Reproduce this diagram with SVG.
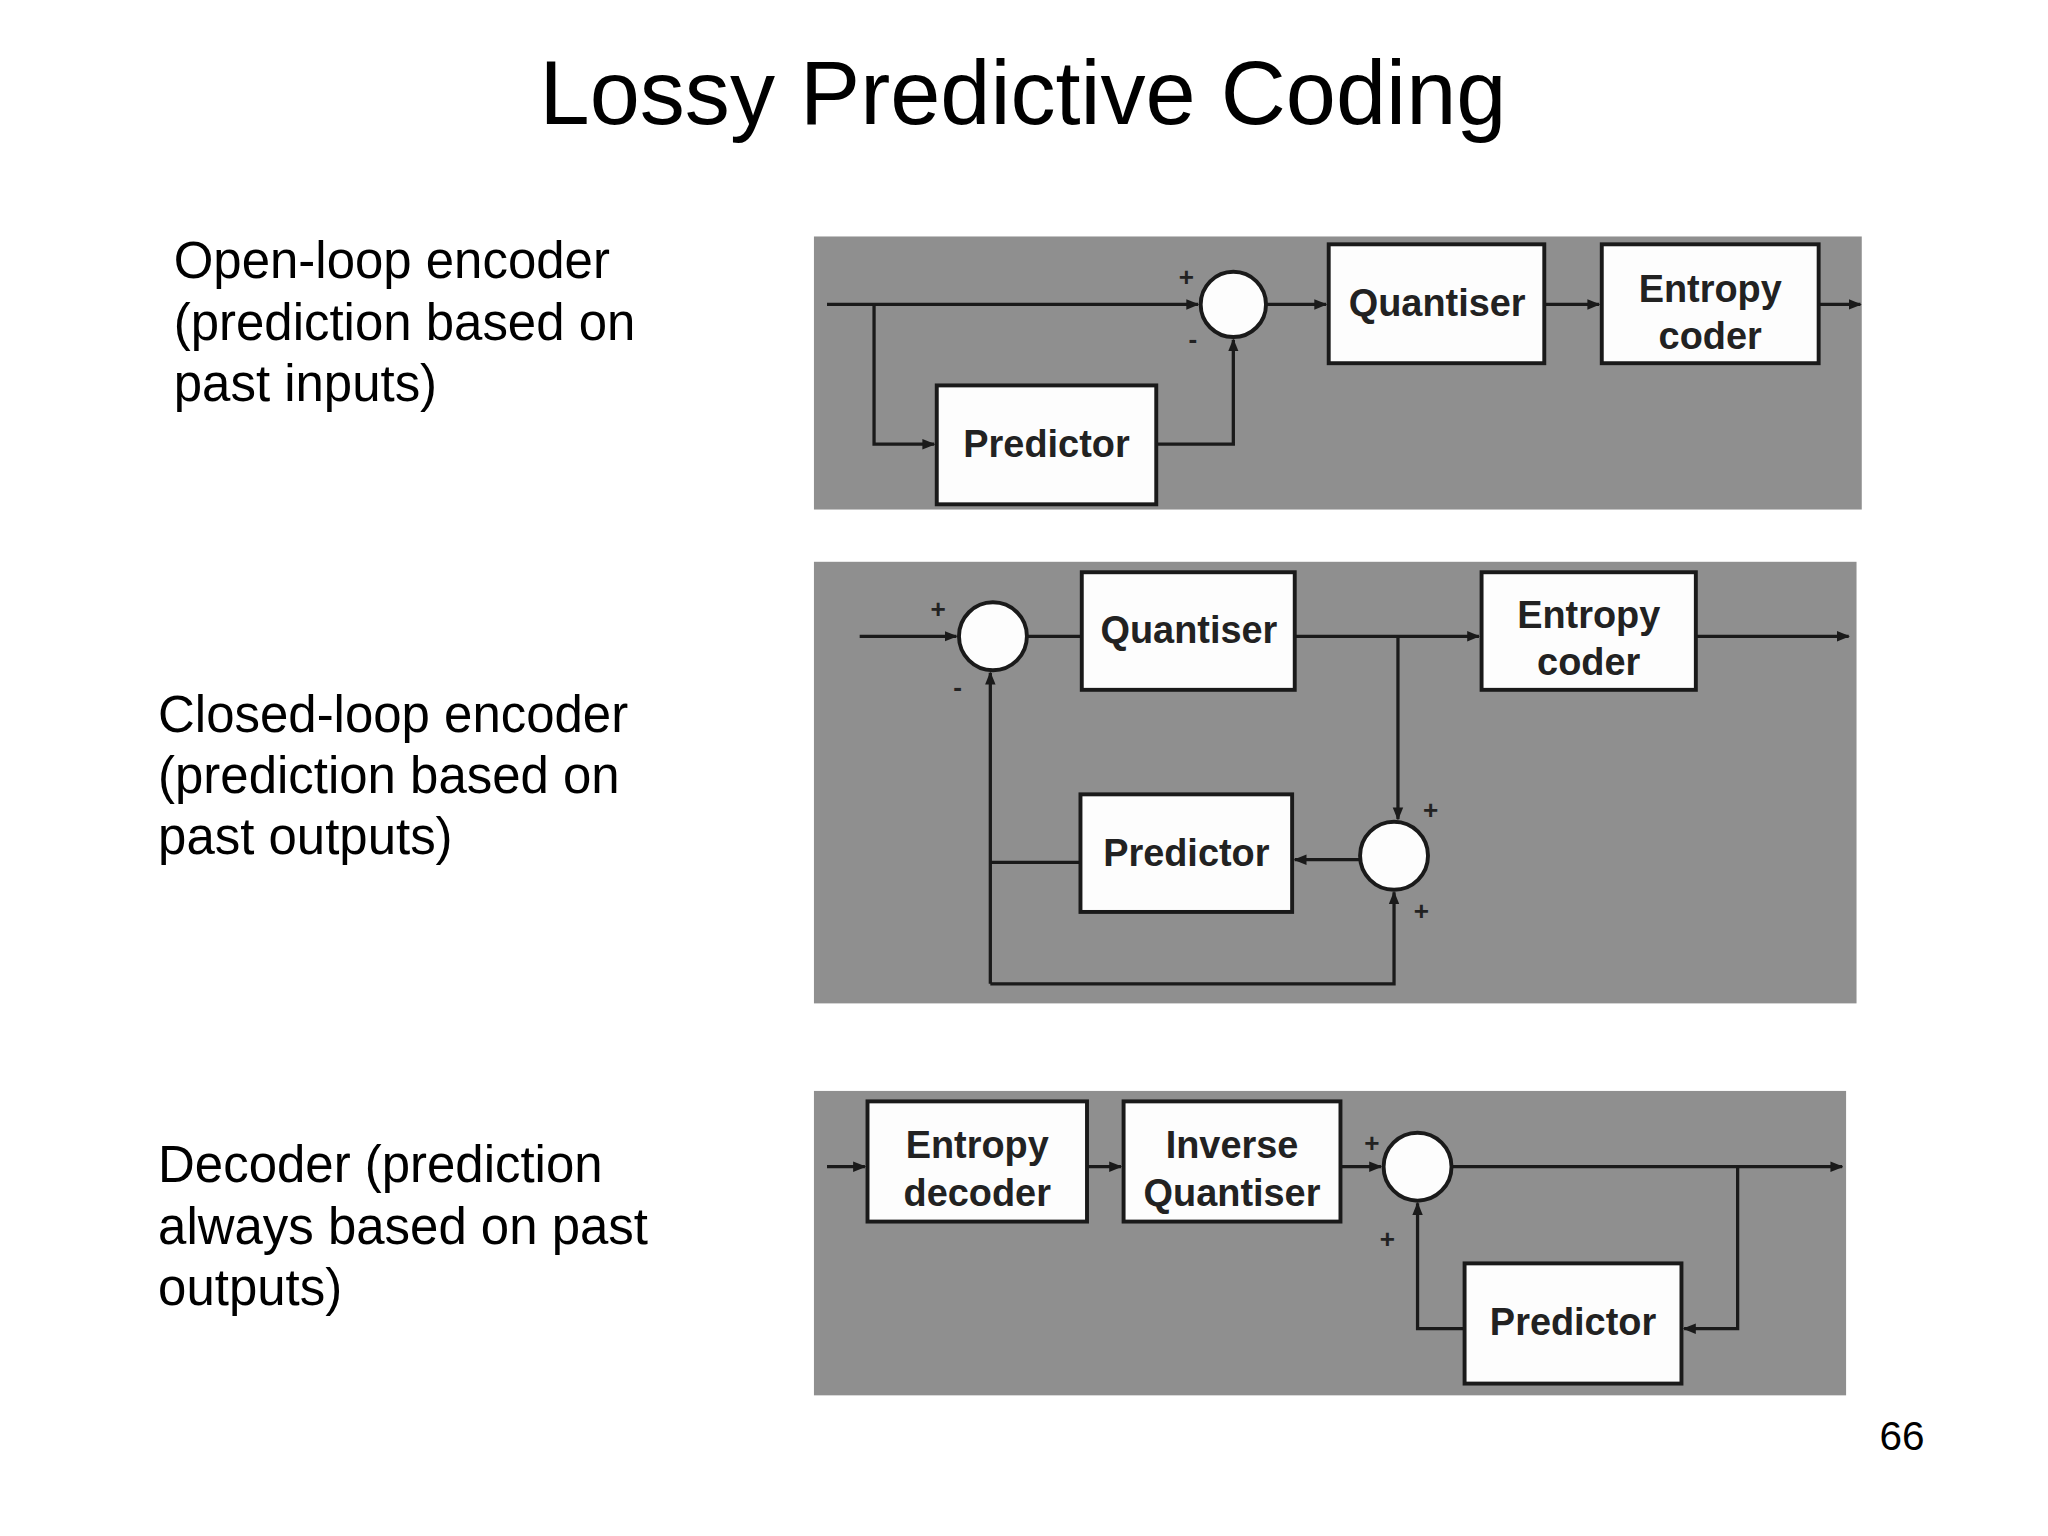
<svg xmlns="http://www.w3.org/2000/svg" width="2048" height="1536" viewBox="0 0 2048 1536">
<style>
.t{font-family:"Liberation Sans",Arial,sans-serif;fill:#000}
.lbl{font-family:"Liberation Sans",Arial,sans-serif;font-size:39px}
.bt{font-family:"Liberation Sans",Arial,sans-serif;font-weight:bold;font-size:29px;fill:#222;text-anchor:middle}
.pm{font-family:"Liberation Sans",Arial,sans-serif;font-weight:bold;font-size:20px;fill:#222;text-anchor:middle}
.panel{fill:#8f8f8f}
.box{fill:#fdfdfd;stroke:#1a1a1a;stroke-width:3}
.sum{fill:#fdfdfd;stroke:#1a1a1a;stroke-width:3}
.c path{fill:none;stroke:#1a1a1a;stroke-width:2.5}
</style>
<defs>
<marker id="a" viewBox="0 0 10 10" refX="9" refY="5" markerWidth="4" markerHeight="4" orient="auto"><path d="M0,1 L10,5 L0,9 z" fill="#1a1a1a"/></marker>
</defs>
<rect width="2048" height="1536" fill="#fff"/>
<g transform="scale(1.3065)">
<text class="t" x="783" y="95" font-size="69" text-anchor="middle">Lossy Predictive Coding</text>
<text class="lbl"><tspan x="133" y="213">Open-loop encoder</tspan><tspan x="133" y="260">(prediction based on</tspan><tspan x="133" y="307">past inputs)</tspan></text>
<text class="lbl"><tspan x="121" y="560">Closed-loop encoder</tspan><tspan x="121" y="607">(prediction based on</tspan><tspan x="121" y="654">past outputs)</tspan></text>
<text class="lbl"><tspan x="121" y="905">Decoder (prediction</tspan><tspan x="121" y="952">always based on past</tspan><tspan x="121" y="999">outputs)</tspan></text>
<text class="t" x="1473" y="1110" font-size="31" text-anchor="end">66</text>

<rect class="panel" x="623" y="181" width="802" height="209"/>
<rect class="panel" x="623" y="430" width="798" height="338"/>
<rect class="panel" x="623" y="835" width="790" height="233"/>

<g class="c" id="connectors">
<path d="M633,233 H917" marker-end="url(#a)"/>
<path d="M669,233 V340 H715" marker-end="url(#a)"/>
<path d="M885,340 H944 V260" marker-end="url(#a)"/>
<path d="M969,233 H1015" marker-end="url(#a)"/>
<path d="M1182,233 H1224" marker-end="url(#a)"/>
<path d="M1392,233 H1424" marker-end="url(#a)"/>

<path d="M658,487 H732" marker-end="url(#a)"/>
<path d="M786,487 H828"/>
<path d="M991,487 H1132" marker-end="url(#a)"/>
<path d="M1070,487 V627" marker-end="url(#a)"/>
<path d="M1298,487 H1415" marker-end="url(#a)"/>
<path d="M1041,658 H991" marker-end="url(#a)"/>
<path d="M827,660 H758"/>
<path d="M758,753 V515" marker-end="url(#a)"/>
<path d="M758,753 H1067 V683" marker-end="url(#a)"/>

<path d="M633,893 H662" marker-end="url(#a)"/>
<path d="M832,893 H858" marker-end="url(#a)"/>
<path d="M1026,893 H1057" marker-end="url(#a)"/>
<path d="M1111,893 H1410" marker-end="url(#a)"/>
<path d="M1330,893 V1017 H1289" marker-end="url(#a)"/>
<path d="M1121,1017 H1085 V921" marker-end="url(#a)"/>
</g>

<g id="sum1"><circle class="sum" cx="944" cy="233" r="25"/></g>
<g id="quant1"><rect class="box" x="1017" y="187" width="165" height="91"/><text class="bt" x="1100" y="242">Quantiser</text></g>
<g id="entropy1"><rect class="box" x="1226" y="187" width="166" height="91"/><text class="bt" x="1309" y="231">Entropy</text><text class="bt" x="1309" y="267">coder</text></g>
<g id="pred1"><rect class="box" x="717" y="295" width="168" height="91"/><text class="bt" x="801" y="350">Predictor</text></g>
<text class="pm" x="908" y="219">+</text><text class="pm" x="913" y="266">-</text>

<g id="sum2"><circle class="sum" cx="760" cy="487" r="26"/></g>
<g id="quant2"><rect class="box" x="828" y="438" width="163" height="90"/><text class="bt" x="910" y="492">Quantiser</text></g>
<g id="entropy2"><rect class="box" x="1134" y="438" width="164" height="90"/><text class="bt" x="1216" y="481">Entropy</text><text class="bt" x="1216" y="517">coder</text></g>
<g id="pred2"><rect class="box" x="827" y="608" width="162" height="90"/><text class="bt" x="908" y="663">Predictor</text></g>
<g id="sum3"><circle class="sum" cx="1067" cy="655" r="26"/></g>
<text class="pm" x="718" y="473">+</text><text class="pm" x="733" y="533">-</text>
<text class="pm" x="1095" y="627">+</text><text class="pm" x="1088" y="704">+</text>

<g id="entdec"><rect class="box" x="664" y="843" width="168" height="92"/><text class="bt" x="748" y="886">Entropy</text><text class="bt" x="748" y="923">decoder</text></g>
<g id="invq"><rect class="box" x="860" y="843" width="166" height="92"/><text class="bt" x="943" y="886">Inverse</text><text class="bt" x="943" y="923">Quantiser</text></g>
<g id="sum4"><circle class="sum" cx="1085" cy="893" r="26"/></g>
<g id="pred3"><rect class="box" x="1121" y="967" width="166" height="92"/><text class="bt" x="1204" y="1022">Predictor</text></g>
<text class="pm" x="1050" y="882">+</text><text class="pm" x="1062" y="955">+</text>
</g>
</svg>
